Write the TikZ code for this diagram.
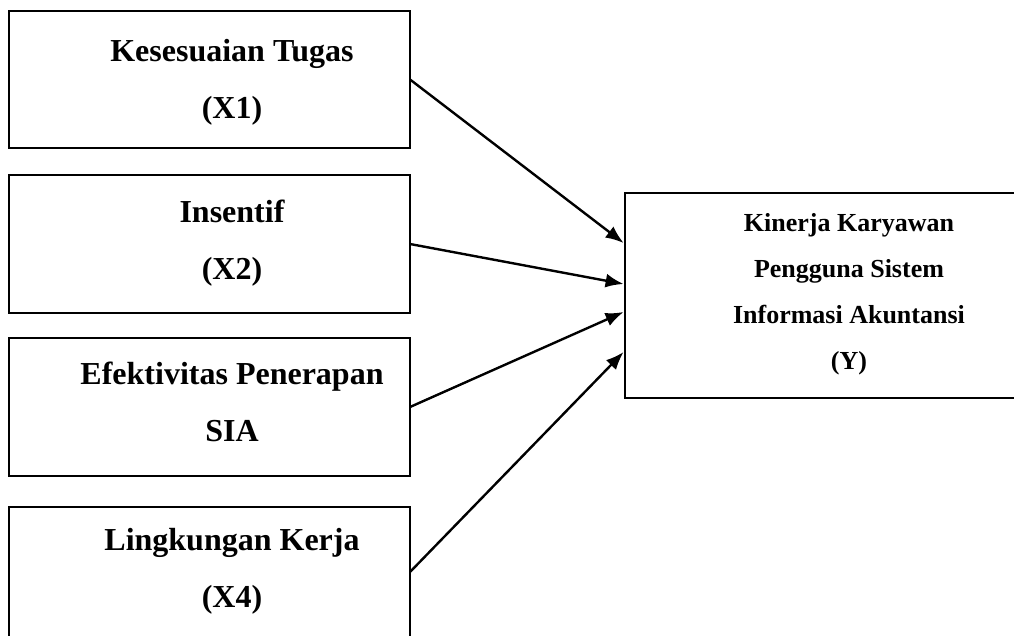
\documentclass[tikz,border=0pt]{standalone}
\usepackage{fontspec}
\setmainfont{Liberation Serif}
\usetikzlibrary{calc,arrows.meta}

\begin{document}
\begin{tikzpicture}[x=1pt,y=-1pt,
  varbox/.style={draw,line width=2.8pt,inner sep=0pt,outer sep=0pt,minimum width=401pt},
  vartext/.style={anchor=base,align=center,font={\fontsize{32}{57}\selectfont\bfseries}},
  depbox/.style={draw,line width=2.8pt,inner sep=0pt,outer sep=0pt},
  deptext/.style={anchor=base,align=center,font={\fontsize{26}{46}\selectfont\bfseries}},
  link/.style={line width=2.4pt,-{Latex[length=18pt,width=14pt]}}]
  \useasboundingbox (0,0) rectangle (1014,635);
  \clip (0,0) rectangle (1014,635);

  % independent variables
  \node[varbox,minimum height=137pt] (b1) at (209.5,79.5) {};
  \node[varbox,minimum height=138pt] (b2) at (209.5,244) {};
  \node[varbox,minimum height=138pt] (b3) at (209.5,407) {};
  \node[varbox,minimum height=130pt] (b4) at (209.5,572) {};

  % labels are placed by the baseline of their last line
  \node[vartext] (t1) at (232,118) {Kesesuaian Tugas\\(X1)};
  \node[vartext] (t2) at (232,279) {Insentif\\(X2)};
  \node[vartext] (t3) at (232,441) {Efektivitas Penerapan\\SIA};
  \node[vartext] (t4) at (232,607) {Lingkungan Kerja\\(X4)};

  % dependent variable
  \node[depbox,minimum width=448pt,minimum height=205pt] (y) at (849,295.5) {};
  \node[deptext] (ty) at (849,369) {Kinerja Karyawan\\Pengguna Sistem\\Informasi Akuntansi\\(Y)};

  % influences
  \draw[link] (b1.east) -- ($(y.north west)+(-1.4,50)$);
  \draw[link] (b2.east) -- ($(y.north west)+(-1.4,91)$);
  \draw[link] (b3.east) -- ($(y.north west)+(-1.4,119)$);
  \draw[link] (b4.east) -- ($(y.north west)+(-1.4,159)$);
\end{tikzpicture}
\end{document}
